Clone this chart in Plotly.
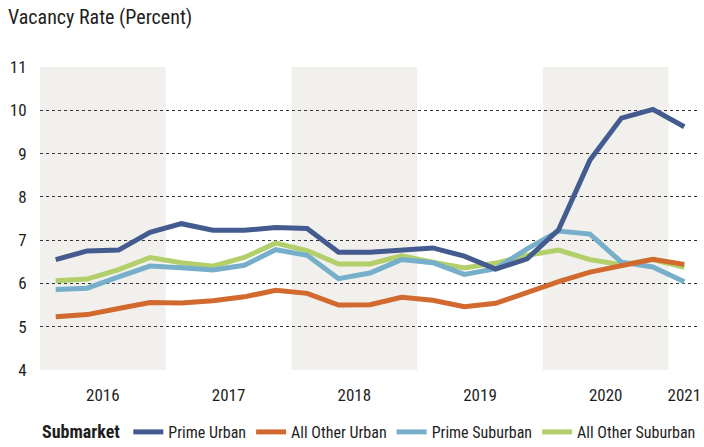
import plotly.graph_objects as go

quarters = [f"{y} Q{q}" for y in range(2016, 2021) for q in range(1, 5)] + ["2021 Q1"]
years = ["2016", "2017", "2018", "2019", "2020", "2021"]
shaded_years = ["2016", "2018", "2020"]

prime_urban = [6.55, 6.75, 6.77, 7.18, 7.38, 7.23, 7.23, 7.29, 7.27, 6.72, 6.72, 6.77, 6.82, 6.63, 6.33,
               6.57, 7.24, 8.85, 9.82, 10.02, 9.62]
other_urban = [5.23, 5.28, 5.42, 5.56, 5.55, 5.60, 5.69, 5.84, 5.77, 5.50, 5.51, 5.68, 5.61, 5.46, 5.54,
               5.80, 6.04, 6.26, 6.41, 6.56, 6.44]
prime_suburban = [5.86, 5.89, 6.15, 6.40, 6.36, 6.31, 6.42, 6.78, 6.65, 6.11, 6.24, 6.55, 6.48, 6.21, 6.34,
                  6.80, 7.21, 7.14, 6.49, 6.38, 6.04]
other_suburban = [6.06, 6.10, 6.32, 6.60, 6.48, 6.40, 6.60, 6.93, 6.76, 6.45, 6.45, 6.64, 6.49, 6.36, 6.47,
                  6.65, 6.77, 6.55, 6.43, 6.55, 6.37]

series = [
    ("All Other Suburban", other_suburban, "#B2CF6B"),
    ("Prime Suburban", prime_suburban, "#77AFCB"),
    ("All Other Urban", other_urban, "#D2692F"),
    ("Prime Urban", prime_urban, "#435B8E"),
]

xpos = [i + 0.5 for i in range(len(quarters))]
qyear = [q.split()[0] for q in quarters]

def year_center(y):
    pts = [x for x, qy in zip(xpos, qyear) if qy == y]
    return sum(pts) / len(pts)

def year_span(y):
    pts = [x for x, qy in zip(xpos, qyear) if qy == y]
    return min(pts) - 0.5, max(pts) + 0.5

font_family = "Roboto Condensed, Liberation Sans Narrow, sans-serif"

fig = go.Figure()
for name, vals, color in series:
    fig.add_trace(go.Scatter(x=xpos, y=vals, name=name, mode="lines",
                             line=dict(color=color, width=5), hoverinfo="skip"))

for y in shaded_years:
    x0, x1 = year_span(y)
    fig.add_shape(type="rect", xref="x", yref="paper", x0=x0, x1=x1, y0=0, y1=1,
                  fillcolor="#F1F0EC", line=dict(width=0), layer="below")

fig.update_layout(
    width=704, height=447,
    margin=dict(l=40, r=4, t=67, b=77),
    paper_bgcolor="white", plot_bgcolor="white",
    font=dict(family=font_family, size=17, color="#1E1E1E"),
    title=dict(text="Vacancy Rate (Percent)", xref="container", x=8 / 704, xanchor="left",
               yref="container", y=1 - 17 / 447, yanchor="middle",
               font=dict(family=font_family, size=20, color="#1E1E1E")),
    showlegend=True,
    legend=dict(orientation="h", traceorder="reversed", xref="paper", x=0, xanchor="left",
                yref="container", y=1 - 432 / 447, yanchor="middle",
                title=dict(text="<b>Submarket</b>", font=dict(family=font_family, size=18)),
                font=dict(family=font_family, size=16, color="#1E1E1E"),
                itemwidth=30, bgcolor="rgba(0,0,0,0)"),
    xaxis=dict(range=[0, len(quarters)], tickmode="array",
               tickvals=[year_center(y) for y in years], ticktext=years,
               showgrid=False, zeroline=False, showline=False, automargin=False,
               ticks="outside", ticklen=10, tickcolor="rgba(0,0,0,0)",
               tickfont=dict(size=17, color="#1E1E1E")),
    yaxis=dict(range=[4, 11], tickmode="linear", tick0=4, dtick=1,
               showgrid=True, gridcolor="#333333", gridwidth=1, griddash="dot",
               zeroline=False, showline=False, automargin=False,
               ticks="outside", ticklen=9, tickcolor="rgba(0,0,0,0)",
               tickfont=dict(size=17, color="#1E1E1E")),
)

fig.write_html("out.html", config={"displayModeBar": False},
               post_script="document.body.style.margin='0px';")
